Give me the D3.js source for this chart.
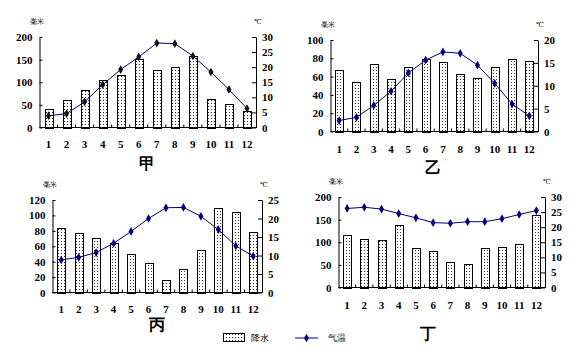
<!DOCTYPE html>
<html>
<head>
<meta charset="utf-8">
<script src="https://cdn.jsdelivr.net/npm/d3@7"></script>
<style>
  body { margin: 0; background: #fff; }
  svg text { font-family: "Liberation Serif", "DejaVu Serif", serif; }
</style>
</head>
<body>
<svg id="chart" width="577" height="352"></svg>
<script>
// months shared by all four climate charts
const months = ["1","2","3","4","5","6","7","8","9","10","11","12"];

// precipitation (mm) and temperature (℃)
const rainJia  = [40, 60, 82, 104, 115, 152, 128, 134, 157, 62, 53, 36];
const tempJia  = [3.9, 4.6, 8.5, 14.2, 19.2, 23.4, 28, 27.8, 23.7, 18.4, 12.6, 6.3];
const rainYi   = [67, 54, 74, 57, 71, 79, 76, 63, 59, 71, 79, 77];
const tempYi   = [2.4, 3.1, 5.7, 8.8, 12.8, 15.6, 17.4, 17.1, 14.5, 10.5, 6.0, 3.4];
const rainBing = [84, 77, 71, 64, 50, 38, 16, 31, 55, 109, 104, 78];
const tempBing = [8.8, 9.5, 10.8, 13.3, 16.5, 20.0, 22.9, 23.0, 20.6, 17.0, 12.6, 9.8];
const rainDing = [116, 107, 105, 139, 87, 80, 56, 51, 88, 90, 96, 161];
const tempDing = [26.2, 26.6, 26.0, 24.5, 23.1, 21.5, 21.3, 21.8, 21.8, 22.8, 24.2, 25.5];

// axis tick values
const rainTicksJia  = [0, 50, 100, 150, 200];
const tempTicksJia  = [0, 5, 10, 15, 20, 25, 30];
const rainTicksYi   = [0, 20, 40, 60, 80, 100];
const tempTicksYi   = [0, 5, 10, 15, 20];
const rainTicksBing = [0, 20, 40, 60, 80, 100, 120];
const tempTicksBing = [0, 5, 10, 15, 20, 25];
const rainTicksDing = [0, 50, 100, 150, 200];
const tempTicksDing = [0, 5, 10, 15, 20, 25, 30];

const svg = d3.select("#chart");
const lineColor = "#000080";

// dotted fill for the rain bars
const defs = svg.append("defs");
const pat = defs.append("pattern")
  .attr("id", "dots")
  .attr("patternUnits", "userSpaceOnUse")
  .attr("width", 3).attr("height", 3);
pat.append("rect").attr("width", 3).attr("height", 3).attr("fill", "#fff");
pat.append("rect").attr("x", 1).attr("y", 1).attr("width", 1).attr("height", 1).attr("fill", "#333");

function drawChart(opt) {
  const g = svg.append("g");
  const x = d3.scaleBand().domain(months).range([opt.left, opt.right]);
  const yR = d3.scaleLinear().domain([0, opt.rainMax]).range([opt.bottom, opt.top]);
  const yT = d3.scaleLinear().domain([0, opt.tempMax]).range([opt.bottom, opt.top]);

  // bars
  const bw = 8;
  g.selectAll(".bar").data(opt.rain).enter().append("rect")
    .attr("x", (d, i) => Math.round(x(months[i]) + x.bandwidth() / 2 - bw / 2) + 0.5)
    .attr("y", d => Math.round(yR(d)) + 0.5)
    .attr("width", bw)
    .attr("height", d => Math.round(opt.bottom) - Math.round(yR(d)))
    .attr("fill", "url(#dots)")
    .attr("stroke", "#000")
    .attr("stroke-width", 1);

  // left axis, ticks point inward
  const left = g.append("g").attr("transform", `translate(${opt.left},0)`)
    .call(d3.axisLeft(yR).tickValues(opt.rainTicks).tickSize(-3).tickSizeOuter(0).tickPadding(7));
  // right axis
  const right = g.append("g").attr("transform", `translate(${opt.right},0)`)
    .call(d3.axisRight(yT).tickValues(opt.tempTicks).tickSize(-4).tickSizeOuter(0).tickPadding(6));
  [left, right].forEach(a => {
    a.select(".domain").attr("stroke", "#000");
    a.selectAll(".tick line").attr("stroke", "#000");
    a.selectAll("text").attr("font-size", 11).attr("font-weight", "bold")
      .attr("font-family", "Liberation Serif").attr("fill", "#000");
  });

  // bottom axis line with ticks between months
  g.append("line")
    .attr("x1", opt.left).attr("x2", opt.right)
    .attr("y1", opt.bottom).attr("y2", opt.bottom)
    .attr("stroke", "#000");
  g.selectAll(".xt").data(months.slice(1)).enter().append("line")
    .attr("x1", d => x(d)).attr("x2", d => x(d))
    .attr("y1", opt.bottom).attr("y2", opt.bottom - 3)
    .attr("stroke", "#000");
  g.selectAll(".xl").data(months).enter().append("text")
    .attr("x", d => x(d) + x.bandwidth() / 2)
    .attr("y", opt.labelY)
    .attr("text-anchor", "middle")
    .attr("font-size", 11).attr("font-weight", "bold")
    .text(d => d);

  // temperature line + diamond markers
  const line = d3.line()
    .x((d, i) => x(months[i]) + x.bandwidth() / 2)
    .y(d => yT(d));
  g.append("path").datum(opt.temp)
    .attr("d", line)
    .attr("fill", "none")
    .attr("stroke", lineColor)
    .attr("stroke-width", 1);
  const diamond = d3.symbol().type(d3.symbolDiamond).size(22);
  g.selectAll(".mk").data(opt.temp).enter().append("path")
    .attr("d", diamond)
    .attr("transform", (d, i) => `translate(${x(months[i]) + x.bandwidth() / 2},${yT(d)})`)
    .attr("fill", opt.markColor || lineColor);

  // unit labels
  g.append("text").attr("x", opt.left - 3).attr("y", opt.top - 13)
    .attr("text-anchor", "middle")
    .attr("font-size", 7).attr("font-family", "Noto Sans CJK SC")
    .text("毫米");
  g.append("text").attr("x", opt.right + 2).attr("y", opt.top - 13)
    .attr("text-anchor", "middle")
    .attr("font-size", 7).attr("font-family", "Noto Sans CJK SC")
    .text("℃");

  // chart name
  g.append("text").attr("x", opt.nameX).attr("y", opt.nameY)
    .attr("text-anchor", "middle")
    .attr("font-size", 16).attr("font-weight", "bold").attr("font-family", "Noto Sans CJK SC")
    .text(opt.name);
}

drawChart({ left: 39.5, right: 256, top: 37, bottom: 127.5, labelY: 148, rainMax: 200, tempMax: 30,
  rain: rainJia, temp: tempJia, rainTicks: rainTicksJia, tempTicks: tempTicksJia,
  name: "甲", nameX: 147, nameY: 169, markColor: "#111" });
drawChart({ left: 330.5, right: 538, top: 40, bottom: 131.5, labelY: 153, rainMax: 100, tempMax: 20,
  rain: rainYi, temp: tempYi, rainTicks: rainTicksYi, tempTicks: tempTicksYi,
  name: "乙", nameX: 433, nameY: 173 });
drawChart({ left: 52.5, right: 262, top: 200, bottom: 292.5, labelY: 313, rainMax: 120, tempMax: 25,
  rain: rainBing, temp: tempBing, rainTicks: rainTicksBing, tempTicks: tempTicksBing,
  name: "丙", nameX: 157, nameY: 330 });
drawChart({ left: 338.5, right: 545, top: 197, bottom: 287.5, labelY: 309, rainMax: 200, tempMax: 30,
  rain: rainDing, temp: tempDing, rainTicks: rainTicksDing, tempTicks: tempTicksDing,
  name: "丁", nameX: 428, nameY: 339 });

// legend
const lg = svg.append("g");
lg.append("rect").attr("x", 223.5).attr("y", 333.5).attr("width", 21).attr("height", 8)
  .attr("fill", "url(#dots)").attr("stroke", "#000");
lg.append("text").attr("x", 251).attr("y", 341)
  .attr("font-size", 9).attr("font-family", "Noto Sans CJK SC").text("降水");
lg.append("line").attr("x1", 295).attr("x2", 318).attr("y1", 338).attr("y2", 338)
  .attr("stroke", lineColor);
lg.append("path").attr("d", d3.symbol().type(d3.symbolDiamond).size(22))
  .attr("transform", "translate(306.5,338)").attr("fill", lineColor);
lg.append("text").attr("x", 328).attr("y", 341)
  .attr("font-size", 9).attr("font-family", "Noto Sans CJK SC").text("气温");
</script>
</body>
</html>
